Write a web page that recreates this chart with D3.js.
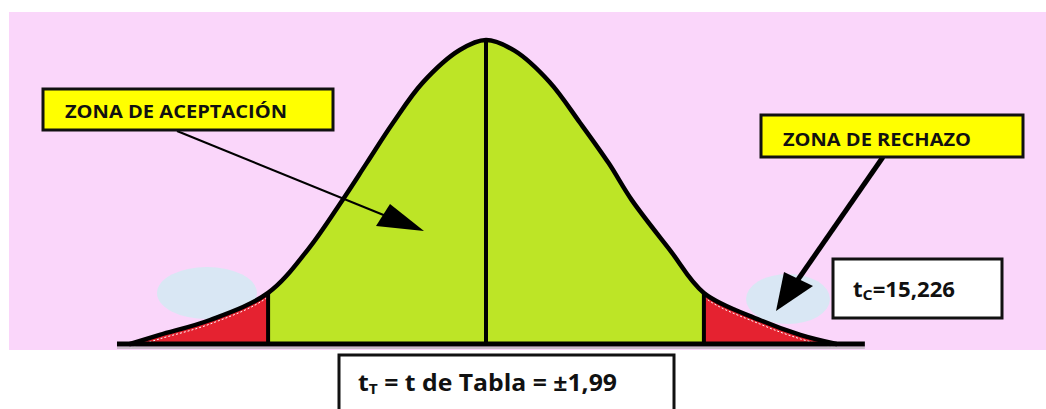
<!DOCTYPE html>
<html>
<head>
<meta charset="utf-8">
<script src="https://cdn.jsdelivr.net/npm/d3@7"></script>
<style>
  body { margin: 0; background: #fff; }
  svg { display: block; }
  text { font-family: "Open Sans", Lato, sans-serif; font-weight: bold; fill: #111; }
</style>
</head>
<body>
<div id="chart"></div>
<script>
// curve: t value and height relative to the peak
var curveT = [-3.25, -2.98, -2.52, -1.99, -1.63, -1.31, -1.09, -0.85, -0.58, -0.24, 0, 0.26, 0.58, 0.86, 1.12, 1.33, 1.68, 1.99, 2.50, 2.87, 3.2];
var curveH = [0, 0.03, 0.079, 0.168, 0.309, 0.474, 0.595, 0.727, 0.859, 0.967, 1, 0.965, 0.862, 0.727, 0.595, 0.474, 0.309, 0.168, 0.079, 0.03, 0];
var critT = [-1.99, 1.99];
var critH = 0.168;
var axisRange = [-3.37, 3.46];
var labelAcept = "ZONA DE ACEPTACIÓN";
var labelRech = "ZONA DE RECHAZO";
var tcValue = "=15,226";
var ttValue = " = t de Tabla = ±1,99";

var width = 1046, height = 409;
var data = curveT.map(function(t, i){ return {t: t, h: curveH[i]}; });

var x = d3.scaleLinear().domain([-3.4, 3.4]).range([113.7, 858.3]);
var y = d3.scaleLinear().domain([0, 1]).range([344, 40]);

var svg = d3.select("#chart").append("svg")
    .attr("width", width)
    .attr("height", height);

// pink background
svg.append("rect")
    .attr("x", 9).attr("y", 12)
    .attr("width", width - 9).attr("height", 338)
    .attr("fill", "#fad6fa");

// pale blue blobs
svg.append("ellipse")
    .attr("cx", 207).attr("cy", 293).attr("rx", 50).attr("ry", 26)
    .attr("fill", "#d9e7f4");
svg.append("ellipse")
    .attr("cx", 788).attr("cy", 299).attr("rx", 42).attr("ry", 25)
    .attr("fill", "#d9e7f4");

var defs = svg.append("defs");
defs.append("clipPath").attr("id", "clipL")
  .append("rect").attr("x", 0).attr("y", 0).attr("width", x(critT[0])).attr("height", height);
defs.append("clipPath").attr("id", "clipR")
  .append("rect").attr("x", x(critT[1])).attr("y", 0).attr("width", width - x(critT[1])).attr("height", height);
defs.append("clipPath").attr("id", "clipM")
  .append("rect").attr("x", x(critT[0])).attr("y", 0).attr("width", x(critT[1]) - x(critT[0])).attr("height", height);

var smooth = d3.curveCatmullRom.alpha(0.5);

var area = d3.area()
    .x(function(d){ return x(d.t); })
    .y0(y(0))
    .y1(function(d){ return y(d.h); })
    .curve(smooth);

var line = d3.line()
    .x(function(d){ return x(d.t); })
    .y(function(d){ return y(d.h); })
    .curve(smooth);

svg.append("path").datum(data).attr("d", area).attr("fill", "#bde526").attr("clip-path", "url(#clipM)");
svg.append("path").datum(data).attr("d", area).attr("fill", "#e52230").attr("clip-path", "url(#clipL)");
svg.append("path").datum(data).attr("d", area).attr("fill", "#e52230").attr("clip-path", "url(#clipR)");

// thin white dashes just inside the tails
["url(#clipL)", "url(#clipR)"].forEach(function(c){
  svg.append("path").datum(data)
    .attr("d", line)
    .attr("transform", "translate(0,4)")
    .attr("fill", "none")
    .attr("stroke", "#fff")
    .attr("stroke-width", 1)
    .attr("stroke-dasharray", "2,2")
    .attr("clip-path", c);
});

// baseline shadow + baseline
svg.append("line")
    .attr("x1", x(axisRange[0])).attr("x2", x(axisRange[1]))
    .attr("y1", y(0) + 4).attr("y2", y(0) + 4)
    .attr("stroke", "#aaa").attr("stroke-width", 2).attr("opacity", 0.6);
svg.append("line")
    .attr("x1", x(axisRange[0])).attr("x2", x(axisRange[1]))
    .attr("y1", y(0)).attr("y2", y(0))
    .attr("stroke", "#000").attr("stroke-width", 5);

// critical value lines and center line
critT.forEach(function(t){
  svg.append("line")
    .attr("x1", x(t)).attr("x2", x(t))
    .attr("y1", y(0)).attr("y2", y(critH))
    .attr("stroke", "#000").attr("stroke-width", 4);
});
svg.append("line")
    .attr("x1", x(0)).attr("x2", x(0))
    .attr("y1", y(0) + 2).attr("y2", y(1))
    .attr("stroke", "#000").attr("stroke-width", 4);

// the curve
svg.append("path").datum(data)
    .attr("d", line)
    .attr("fill", "none")
    .attr("stroke", "#000")
    .attr("stroke-width", 4.5)
    .attr("stroke-linejoin", "round")
    .attr("stroke-linecap", "round");

// arrows
svg.append("line")
    .attr("x1", 177).attr("y1", 131).attr("x2", 386).attr("y2", 216)
    .attr("stroke", "#000").attr("stroke-width", 2);
svg.append("polygon")
    .attr("points", [[390, 204], [376, 226], [424, 231]].join(" "))
    .attr("fill", "#000");

svg.append("line")
    .attr("x1", 883).attr("y1", 157).attr("x2", 797).attr("y2", 281)
    .attr("stroke", "#000").attr("stroke-width", 5);
svg.append("polygon")
    .attr("points", [[784, 272], [813, 286], [776, 311]].join(" "))
    .attr("fill", "#000");

// label boxes
function box(x0, y0, w, h, fill){
  svg.append("rect")
    .attr("x", x0).attr("y", y0).attr("width", w).attr("height", h)
    .attr("fill", fill).attr("stroke", "#111").attr("stroke-width", 3);
}

box(43, 89, 290, 41, "#ffff00");
svg.append("text")
    .attr("x", 65).attr("y", 118)
    .attr("font-size", 17)
    .attr("textLength", 222).attr("lengthAdjust", "spacingAndGlyphs")
    .text(labelAcept);

box(761, 115, 262, 42, "#ffff00");
svg.append("text")
    .attr("x", 783).attr("y", 146)
    .attr("font-size", 17.5)
    .attr("textLength", 188).attr("lengthAdjust", "spacingAndGlyphs")
    .text(labelRech);

box(833, 259, 169, 59, "#fff");
var tc = svg.append("text").attr("x", 853).attr("y", 297).attr("font-size", 21)
    .attr("textLength", 102).attr("lengthAdjust", "spacingAndGlyphs");
tc.append("tspan").text("t");
tc.append("tspan").attr("font-size", 15).attr("dy", 3).text("C");
tc.append("tspan").attr("dy", -3).text(tcValue);

box(339, 355, 335, 70, "#fff");
var tt = svg.append("text").attr("x", 358).attr("y", 391).attr("font-size", 24)
    .attr("textLength", 259).attr("lengthAdjust", "spacingAndGlyphs");
tt.append("tspan").text("t");
tt.append("tspan").attr("font-size", 15).attr("dy", 3).text("T");
tt.append("tspan").attr("dy", -3).text(ttValue);
</script>
</body>
</html>
